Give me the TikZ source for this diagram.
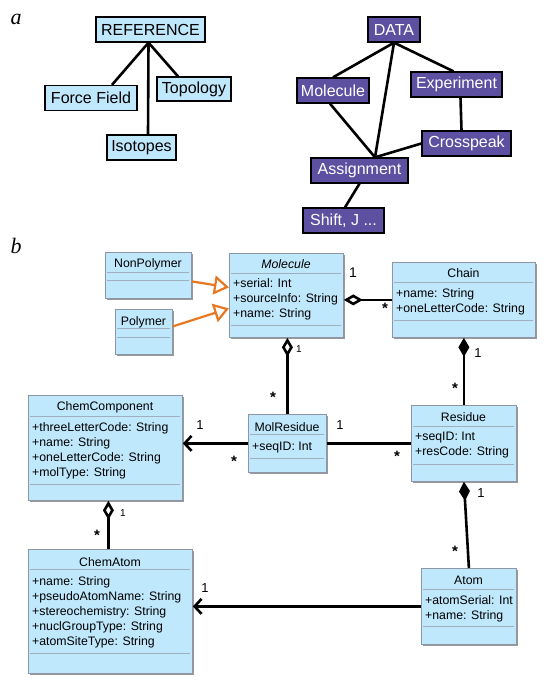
\documentclass[tikz,border=0pt]{standalone}
\usepackage{fontspec}
\setmainfont{Liberation Sans}
\newfontfamily\partfont{Liberation Serif}
\usetikzlibrary{arrows.meta,shadows}

\definecolor{boxblue}{RGB}{192,232,252}
\definecolor{datapurple}{RGB}{94,80,160}
\definecolor{genorange}{RGB}{232,119,34}
\definecolor{clsframe}{RGB}{140,150,165}
\definecolor{sepgray}{RGB}{160,175,190}

\tikzset{
  refbox/.style={draw, line width=1.3pt, fill=boxblue, inner sep=0pt, minimum height=25pt, font=\fontsize{16}{16}\selectfont},
  databox/.style={refbox, fill=datapurple, text=white},
  tie/.style={line width=2.6pt},
  cls/.style={draw=clsframe, fill=boxblue, line width=0.8pt, inner sep=0pt, anchor=north west,
    drop shadow={shadow xshift=1.2pt, shadow yshift=-1.2pt, fill=gray!80, opacity=1}},
  ctitle/.style={inner sep=0pt, font=\fontsize{12.3}{12.3}\selectfont},
  cattr/.style={inner sep=0pt, anchor=north west, align=left, font=\fontsize{12.3}{15}\selectfont},
  sep/.style={draw=sepgray, line width=0.8pt},
  link/.style={line width=2.6pt},
  mult/.style={inner sep=0pt, font=\fontsize{13}{13}\selectfont},
  star/.style={inner sep=0pt, yshift=-4pt, font=\bfseries\fontsize{15}{15}\selectfont},
  smallmult/.style={inner sep=0pt, font=\fontsize{10}{10}\selectfont},
  partlabel/.style={inner sep=0pt, font=\partfont\itshape\fontsize{22}{22}\selectfont},
  gen/.style={draw=genorange, line width=2.2pt, -{Triangle[open, length=15pt, width=19pt]}},
  agg/.style={{Diamond[open, length=19pt, width=11pt]}-},
  comp/.style={{Diamond[length=19pt, width=11pt]}-},
  nav/.style={-{Straight Barb[length=7pt, width=15pt]}}
}

\begin{document}
\begin{tikzpicture}[x=1pt, y=-1pt]
    \useasboundingbox (0,0) rectangle (546,685);

    %Del a
        \node[partlabel] (part-a) at (16,19) {a};
        \node[refbox, minimum width=109pt] (reference) at (150.5,29.5) {REFERENCE};
        \node[refbox, minimum width=92pt] (forcefield) at (91,98) {Force Field};
        \node[refbox, minimum width=74pt, minimum height=24pt] (topology) at (194,89) {Topology};
        \node[refbox, minimum width=69pt] (isotopes) at (141.5,147.5) {Isotopes};
        \draw[tie] ([xshift=-2pt]reference.south) -- ([xshift=21pt]forcefield.north);
        \draw[tie] ([xshift=-2pt]reference.south) -- ([xshift=6.5pt]isotopes.north);
        \draw[tie] ([xshift=-2pt]reference.south) -- ([xshift=-16pt]topology.north);
        %
        \node[databox, minimum width=52pt] (data) at (394,29.5) {DATA};
        \node[databox, minimum width=72pt] (datamol) at (333,90.5) {Molecule};
        \node[databox, minimum width=91pt] (experiment) at (456.5,84.5) {Experiment};
        \node[databox, minimum width=89pt] (crosspeak) at (466.5,143.5) {Crosspeak};
        \node[databox, minimum width=97pt] (assignment) at (359.5,170.5) {Assignment};
        \node[databox, minimum width=81pt] (shiftj) at (343.5,220.5) {Shift, J ...};
        \coordinate (hub) at ([xshift=15.5pt]assignment.north);
        \draw[tie] (data.south) -- (datamol.north);
        \draw[tie] (data.south) -- ([xshift=-3pt]experiment.north);
        \draw[tie] (data.south) -- (hub);
        \draw[tie] ([xshift=-3pt]datamol.south) -- (hub);
        \draw[tie] (crosspeak.west) -- (hub);
        \draw[tie] ([xshift=4pt]experiment.south) -- ([xshift=-5pt]crosspeak.north);
        \draw[tie] (assignment.south) -- ([xshift=1.5pt]shiftj.north);

    %Del b - klasser
        \node[partlabel] (part-b) at (16,246) {b};
        %
        \node[cls, minimum width=86pt, minimum height=46pt] (nonpolymer) at (105,252) {};
        \node[ctitle] (nonpolymer-t) at (148,264) {NonPolymer};
        \draw[sep] (107,272) -- (189,272);
        \draw[sep] (107,280) -- (189,280);
        %
        \node[cls, minimum width=57pt, minimum height=45pt] (polymer) at (115,309) {};
        \node[ctitle] (polymer-t) at (143.5,322) {Polymer};
        \draw[sep] (117,328) -- (170,328);
        \draw[sep] (117,337) -- (170,337);
        %
        \node[cls, minimum width=114pt, minimum height=84pt] (molecule) at (229,253) {};
        \node[ctitle] (molecule-t) at (286,264) {\textit{Molecule}};
        \draw[sep] (231,273) -- (341,273);
        \node[cattr] (molecule-a) at (233,278.1) {+serial: Int\\+sourceInfo: String\\+name: String};
        \draw[sep] (231,325) -- (341,325);
        %
        \node[cls, minimum width=143pt, minimum height=75pt] (chain) at (392,262) {};
        \node[ctitle] (chain-t) at (463.5,273) {Chain};
        \draw[sep] (394,282) -- (533,282);
        \node[cattr] (chain-a) at (396,288.1) {+name: String\\+oneLetterCode: String};
        \draw[sep] (394,320) -- (533,320);
        %
        \node[cls, minimum width=154pt, minimum height=105pt] (chemcomp) at (28,395) {};
        \node[ctitle] (chemcomp-t) at (105,407) {ChemComponent};
        \draw[sep] (30,416) -- (180,416);
        \node[cattr] (chemcomp-a) at (32,422.7) {+threeLetterCode: String\\+name: String\\+oneLetterCode: String\\+molType: String};
        \draw[sep] (30,484) -- (180,484);
        %
        \node[cls, minimum width=78pt, minimum height=58pt] (molres) at (248,414) {};
        \node[ctitle] (molres-t) at (287,427) {MolResidue};
        \draw[sep] (250,434) -- (324,434);
        \node[cattr] (molres-a) at (252,442.1) {+seqID: Int};
        \draw[sep] (250,458) -- (324,458);
        %
        \node[cls, minimum width=105pt, minimum height=76pt] (residue) at (411,405) {};
        \node[ctitle] (residue-t) at (463.5,417) {Residue};
        \draw[sep] (413,426) -- (514,426);
        \node[cattr] (residue-a) at (415,432.1) {+seqID: Int\\+resCode: String};
        \draw[sep] (413,464) -- (514,464);
        %
        \node[cls, minimum width=164pt, minimum height=124pt] (chematom) at (28,549) {};
        \node[ctitle] (chematom-t) at (110,562) {ChemAtom};
        \draw[sep] (30,569.5) -- (190,569.5);
        \node[cattr] (chematom-a) at (32,576.1) {+name: String\\+pseudoAtomName: String\\+stereochemistry: String\\+nuclGroupType: String\\+atomSiteType: String};
        \draw[sep] (30,653) -- (190,653);
        %
        \node[cls, minimum width=95pt, minimum height=76pt] (atom) at (421,568) {};
        \node[ctitle] (atom-t) at (468.5,580) {Atom};
        \draw[sep] (423,589) -- (514,589);
        \node[cattr] (atom-a) at (425,595.4) {+atomSerial: Int\\+name: String};
        \draw[sep] (423,626.5) -- (514,626.5);

    %Del b - forbindelser
        \draw[gen] ([yshift=-6pt]nonpolymer.east) -- ([yshift=8pt]molecule.west);
        \draw[gen] ([yshift=5.5pt]polymer.east) -- ([yshift=-13pt]molecule.west);
        %
        \draw[link, agg] (molecule.east |- chain.west) -- (chain.west);
        \node[mult, font=\fontsize{14}{14}\selectfont] (mc-1) at (353,273) {1};
        \node[star] (mc-n) at (385,304) {*};
        %
        \draw[link, agg] (molecule.south -| molres.north) -- (molres.north);
        \node[smallmult] (mm-1) at (299,349) {1};
        \node[star] (mm-n) at (273,393) {*};
        %
        \draw[link, comp] (chain.south) -- (residue.north);
        \node[mult] (cr-1) at (478,353) {1};
        \node[star] (cr-n) at (455,384) {*};
        %
        \draw[link, nav] (molres.west) -- (chemcomp.east |- molres.west);
        \node[mult] (mcc-1) at (200,425) {1};
        \node[star] (mcc-n) at (234,457) {*};
        %
        \draw[link] (molres.east) -- (residue.west |- molres.east);
        \node[mult] (mr-1) at (340,425) {1};
        \node[star] (mr-n) at (397,452) {*};
        %
        \draw[link, comp] (residue.south) -- (atom.north);
        \node[mult] (ra-1) at (481,493) {1};
        \node[star] (ra-n) at (455,547) {*};
        %
        \draw[link, agg] ([xshift=3pt]chemcomp.south) -- ([xshift=-2pt]chematom.north);
        \node[smallmult] (ca-1) at (123,513) {1};
        \node[star] (ca-n) at (97,531) {*};
        %
        \draw[link, nav] (atom.west) -- (chematom.east |- atom.west);
        \node[mult] (aa-1) at (205,588) {1};
\end{tikzpicture}
\end{document}
